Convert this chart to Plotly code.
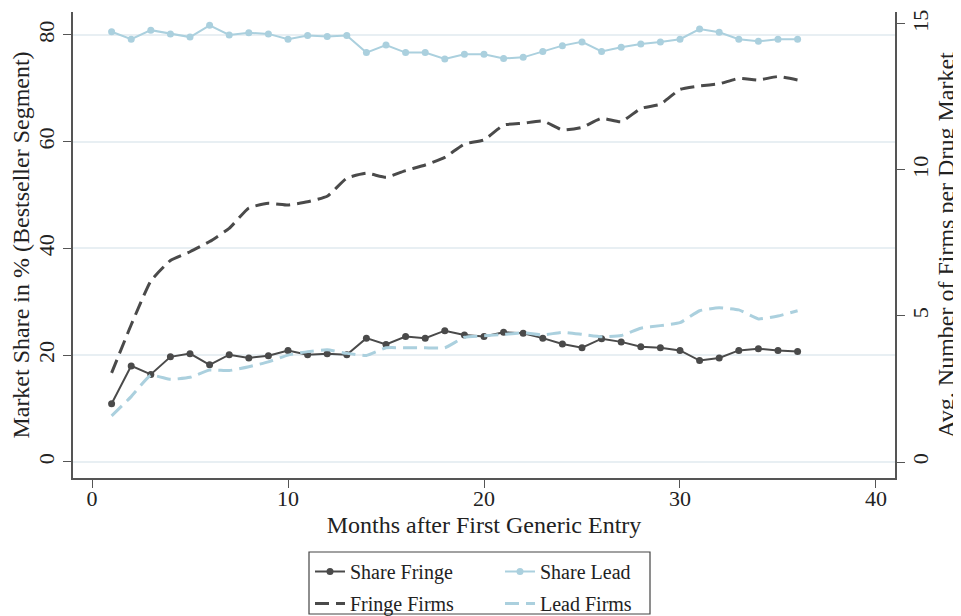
import plotly.graph_objects as go

months = list(range(1, 37))

share_fringe = [10.9, 18.0, 16.4, 19.7, 20.3, 18.2, 20.1, 19.5, 19.9, 20.9,
                20.1, 20.3, 20.1, 23.2, 22.0, 23.5, 23.2, 24.6, 23.8, 23.5,
                24.3, 24.1, 23.2, 22.1, 21.4, 23.1, 22.5, 21.6, 21.4, 20.9,
                19.0, 19.5, 20.9, 21.2, 20.9, 20.7]

share_lead = [80.6, 79.2, 80.9, 80.2, 79.6, 81.8, 80.0, 80.4, 80.2, 79.2,
              79.9, 79.7, 79.9, 76.7, 78.1, 76.7, 76.7, 75.5, 76.4, 76.4,
              75.6, 75.8, 76.9, 78.0, 78.7, 76.9, 77.7, 78.3, 78.7, 79.2,
              81.1, 80.5, 79.2, 78.8, 79.2, 79.2]

fringe_firms = [3.05, 4.7, 6.2, 6.9, 7.2, 7.55, 8.0, 8.7, 8.86, 8.8,
                8.91, 9.1, 9.72, 9.89, 9.75, 9.98, 10.17, 10.43, 10.89, 11.03,
                11.54, 11.6, 11.68, 11.37, 11.46, 11.77, 11.65, 12.11, 12.25, 12.76,
                12.88, 12.95, 13.14, 13.08, 13.2, 13.08]

lead_firms = [1.58, 2.24, 2.97, 2.83, 2.90, 3.15, 3.13, 3.26, 3.43, 3.66,
              3.78, 3.84, 3.72, 3.65, 3.91, 3.91, 3.91, 3.91, 4.27, 4.32,
              4.37, 4.43, 4.35, 4.44, 4.37, 4.29, 4.33, 4.58, 4.67, 4.77,
              5.18, 5.28, 5.21, 4.90, 5.00, 5.18]

x_ticks = [0, 10, 20, 30, 40]
y_ticks = [0, 20, 40, 60, 80]
y2_ticks = [0, 5, 10, 15]

DARK = "#4a4a4a"
LIGHT = "#abd0de"
FONT = "Liberation Serif"

fig = go.Figure()
fig.add_trace(go.Scatter(x=months, y=share_fringe, name="Share Fringe", mode="lines+markers",
                         line=dict(color=DARK, width=2), marker=dict(color=DARK, size=7),
                         legend="legend", legendgroup="a"))
fig.add_trace(go.Scatter(x=months, y=fringe_firms, name="Fringe Firms", mode="lines", yaxis="y2",
                         line=dict(color=DARK, width=3, dash="14px,7px", shape="spline", smoothing=0.4),
                         legend="legend", legendgroup="b"))
fig.add_trace(go.Scatter(x=months, y=share_lead, name="Share Lead", mode="lines+markers",
                         line=dict(color=LIGHT, width=2), marker=dict(color=LIGHT, size=7),
                         legend="legend2", legendgroup="c"))
fig.add_trace(go.Scatter(x=months, y=lead_firms, name="Lead Firms", mode="lines", yaxis="y2",
                         line=dict(color=LIGHT, width=3, dash="14px,7px", shape="spline", smoothing=0.4),
                         legend="legend2", legendgroup="d"))

axis_common = dict(showline=True, linecolor="#555555", linewidth=1.5, ticks="outside",
                   ticklen=8, tickcolor="#555555", zeroline=False, automargin=False,
                   tickfont=dict(family=FONT, size=22, color="#222222"))

# figure is offset by the page's 8px body margin; plot area spans 65..887 x 4..470
leg_y = (470 - 544) / 466

fig.update_layout(
    width=953, height=608,
    margin=dict(l=65, r=66, t=4, b=138, autoexpand=False),
    paper_bgcolor="white", plot_bgcolor="white",
    font=dict(family=FONT, color="#222222"),
    xaxis=dict(range=[-0.97, 40.97], tickvals=x_ticks, showgrid=False, ticklabelstandoff=-8,
               title=dict(text="Months after First Generic Entry", font=dict(family=FONT, size=24), standoff=6),
               **axis_common),
    yaxis=dict(range=[-3.0, 84.3], tickvals=y_ticks, tickangle=-90,
               showgrid=True, gridcolor="#e8eff3", gridwidth=1.5,
               title=dict(text="Market Share in % (Bestseller Segment)", font=dict(family=FONT, size=24), standoff=4),
               **axis_common),
    yaxis2=dict(range=[-0.548, 15.41], tickvals=y2_ticks, tickangle=-90, overlaying="y", side="right",
                showgrid=False, ticklabelstandoff=-3,
                title=dict(text="Avg. Number of Firms per Drug Market", font=dict(family=FONT, size=24), standoff=4),
                **axis_common),
    legend=dict(x=(302 - 65) / 822, y=leg_y, xanchor="left", yanchor="top",
                orientation="v", font=dict(family=FONT, size=20), bgcolor="rgba(0,0,0,0)",
                tracegroupgap=3),
    legend2=dict(x=(492 - 65) / 822, y=leg_y, xanchor="left", yanchor="top",
                 orientation="v", font=dict(family=FONT, size=20), bgcolor="rgba(0,0,0,0)",
                 tracegroupgap=3),
    shapes=[dict(type="rect", xref="paper", yref="paper",
                 x0=(301 - 65) / 822, x1=(642 - 65) / 822,
                 y0=(470 - 606) / 466, y1=(470 - 544) / 466,
                 line=dict(color="#444444", width=1.2), fillcolor="rgba(0,0,0,0)")],
)

fig.write_html("out.html")
